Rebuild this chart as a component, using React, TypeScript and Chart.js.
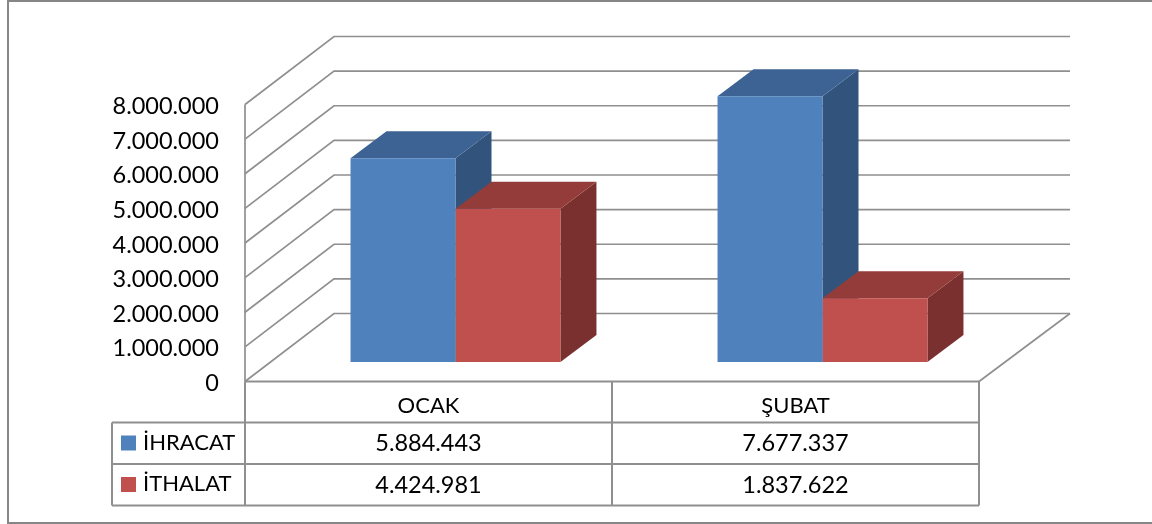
import React, { useEffect, useRef } from "react";
import { Chart, registerables } from "chart.js";

Chart.register(...registerables);

const categories = ["OCAK", "ŞUBAT"];
const ihracat = [5884443, 7677337];
const ithalat = [4424981, 1837622];
const seriesNames = ["İHRACAT", "İTHALAT"];
const yMax = 8000000;
const yStep = 1000000;

const FONT = "Lato";
const GRID = "#8f8f8f";
const FRONT = ["#4F81BD", "#C0504D"];
const TOP = ["#3C6393", "#933C3A"];
const SIDE = ["#32547C", "#7A302E"];

const fmt = (v: number) => String(v).replace(/\B(?=(\d{3})+(?!\d))/g, ".");

// 3D projection constants
const WALL_DX = 89;
const WALL_DY = -68;
const BAR_SHIFT_X = 27;
const BAR_SHIFT_Y = -19.5;
const DEPTH_DX = 36;
const DEPTH_DY = -27;

const poly = (ctx: CanvasRenderingContext2D, pts: number[][], fill: string) => {
  ctx.beginPath();
  pts.forEach(([x, y], i) => (i ? ctx.lineTo(x, y) : ctx.moveTo(x, y)));
  ctx.closePath();
  ctx.fillStyle = fill;
  ctx.fill();
};

const threeD = {
  id: "threeD",
  beforeDatasetsDraw(chart: any) {
    const { ctx, chartArea: a, scales } = chart;
    const y = scales.y;
    ctx.save();
    ctx.strokeStyle = GRID;
    ctx.lineWidth = 1.7;
    // walls and gridlines
    y.ticks.forEach((t: any) => {
      const py = y.getPixelForValue(t.value);
      ctx.beginPath();
      ctx.moveTo(a.left, py);
      ctx.lineTo(a.left + WALL_DX, py + WALL_DY);
      ctx.lineTo(a.left + WALL_DX + 736, py + WALL_DY);
      ctx.stroke();
    });
    // left axis
    ctx.beginPath();
    ctx.moveTo(a.left, a.top);
    ctx.lineTo(a.left, a.bottom);
    ctx.stroke();
    // floor right edge
    ctx.beginPath();
    ctx.moveTo(a.right, a.bottom);
    ctx.lineTo(a.left + WALL_DX + 736, a.bottom + WALL_DY);
    ctx.stroke();
    // bar depth faces
    [0, 1].forEach((ds) => {
      chart.getDatasetMeta(ds).data.forEach((b: any) => {
        const p = b.getProps(["x", "y", "base", "width"], true);
        const l = p.x - p.width / 2 + BAR_SHIFT_X;
        const r = p.x + p.width / 2 + BAR_SHIFT_X;
        const t = p.y + BAR_SHIFT_Y;
        const bt = p.base + BAR_SHIFT_Y;
        poly(ctx, [[r, t], [r + DEPTH_DX, t + DEPTH_DY], [r + DEPTH_DX, bt + DEPTH_DY], [r, bt]], SIDE[ds]);
        poly(ctx, [[l, t], [l + DEPTH_DX, t + DEPTH_DY], [r + DEPTH_DX, t + DEPTH_DY], [r, t]], TOP[ds]);
      });
    });
    ctx.translate(BAR_SHIFT_X, BAR_SHIFT_Y);
  },
  afterDatasetsDraw(chart: any) {
    chart.ctx.restore();
  },
  afterDraw(chart: any) {
    const { ctx, chartArea: a, scales } = chart;
    const row1 = a.bottom + 41;
    const row2 = row1 + 41.5;
    const row3 = row2 + 41.5;
    const legendL = 112;
    const mid = (scales.x.getPixelForValue(0) + scales.x.getPixelForValue(1)) / 2;
    ctx.save();
    const line = (x1: number, y1: number, x2: number, y2: number) => {
      ctx.beginPath();
      ctx.moveTo(x1, y1);
      ctx.lineTo(x2, y2);
      ctx.stroke();
    };
    // outer frame: left, top and bottom edges only, open on the right
    ctx.strokeStyle = "#868686";
    ctx.lineWidth = 2;
    line(1152, 1, 8, 1);
    line(8, 0, 8, 524);
    line(8, 523, 1152, 523);
    // data table
    ctx.strokeStyle = GRID;
    ctx.lineWidth = 2;
    line(a.left, a.bottom, a.right, a.bottom);
    line(a.left, a.bottom, a.left, row3);
    line(mid, a.bottom, mid, row3);
    line(a.right, a.bottom, a.right, row3);
    [row1, row2, row3].forEach((r) => line(legendL, r, a.right, r));
    line(legendL, row1, legendL, row3);
    ctx.textBaseline = "middle";
    [ihracat, ithalat].forEach((vals, i) => {
      const cy = (i ? row2 : row1) + 21;
      ctx.fillStyle = FRONT[i];
      ctx.fillRect(121, cy - 8, 15, 15);
      ctx.fillStyle = "#000";
      ctx.textAlign = "left";
      ctx.font = `22px ${FONT}`;
      ctx.fillText(seriesNames[i], 143, cy - 1);
      ctx.font = `23.5px ${FONT}`;
      ctx.textAlign = "center";
      vals.forEach((v, c) => ctx.fillText(fmt(v), scales.x.getPixelForValue(c), cy));
    });
    ctx.restore();
  },
};

export default function App() {
  const ref = useRef<HTMLCanvasElement>(null);
  useEffect(() => {
    const chart = new Chart(ref.current!, {
      type: "bar",
      data: {
        labels: categories,
        datasets: [
          { label: seriesNames[0], data: ihracat, backgroundColor: FRONT[0], categoryPercentage: 0.572, barPercentage: 1 },
          { label: seriesNames[1], data: ithalat, backgroundColor: FRONT[1], categoryPercentage: 0.572, barPercentage: 1 },
        ],
      },
      options: {
        responsive: false,
        animation: false,
        layout: { padding: { top: 104.5, right: 173, left: 0, bottom: 0 } },
        plugins: { legend: { display: false }, tooltip: { enabled: false } },
        scales: {
          x: {
            grid: { display: false },
            border: { display: false },
            afterFit: (s: any) => { s.height = 142.5; },
            ticks: { color: "#000", padding: 3, font: { family: FONT, size: 22 }, maxRotation: 0 },
          },
          y: {
            min: 0,
            max: yMax,
            grid: { display: false },
            border: { display: false },
            afterFit: (s: any) => { s.width = 245; },
            ticks: { stepSize: yStep, color: "#000", padding: 18, labelOffset: 2, font: { family: FONT, size: 23.5 }, callback: (v: any) => fmt(Number(v)) },
          },
        },
      },
      plugins: [threeD],
    } as any);
    return () => chart.destroy();
  }, []);
  return <canvas ref={ref} width={1152} height={524} style={{ position: "fixed", left: 0, top: 0, width: 1152, height: 524, background: "#fff" }} />;
}
